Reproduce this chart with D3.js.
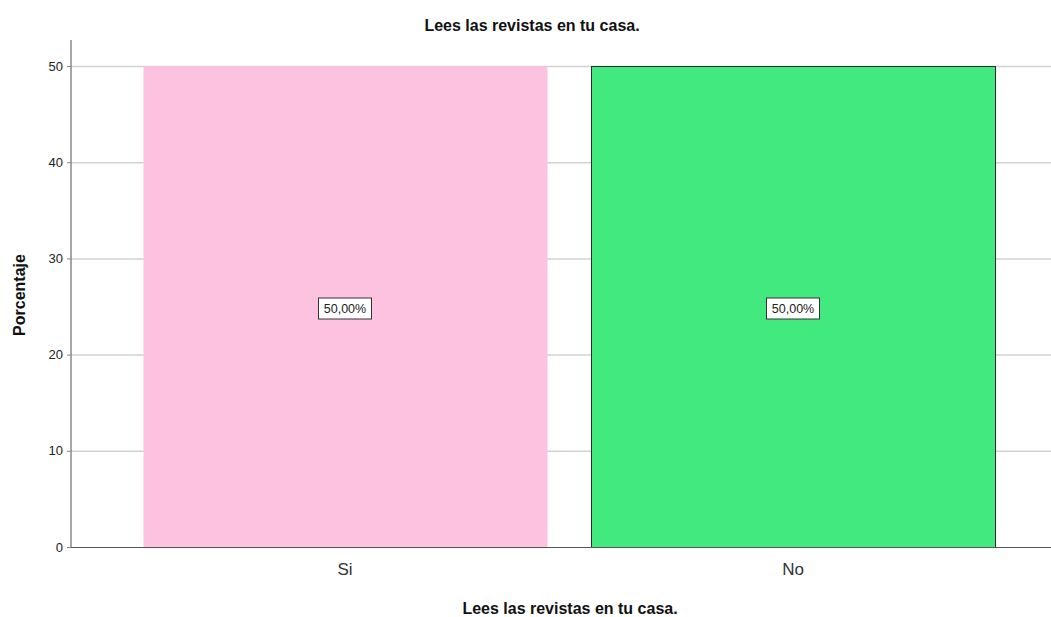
<!DOCTYPE html>
<html>
<head>
<meta charset="utf-8">
<script src="https://cdn.jsdelivr.net/npm/d3@7"></script>
<style>
  body { margin: 0; background: #fff; }
  svg { display: block; font-family: "Liberation Sans", Arial, sans-serif; }
</style>
</head>
<body>
<div id="chart"></div>
<script>
// data
var categories = ['Si', 'No'];
var values = [50, 50];
var labels = ['50,00%', '50,00%'];
var yTicks = [0, 10, 20, 30, 40, 50];
var fills = ['#fdc2e0', '#42e97f'];
var strokes = ['none', '#2b2b2b'];

var W = 1051, H = 617;
var x0 = 71, yTop = 66, yBase = 547;

var svg = d3.select('#chart').append('svg')
  .attr('width', W).attr('height', H);

var x = d3.scaleBand().domain(categories).range([x0, 1067])
  .paddingInner(0.0982).paddingOuter(0.1607);
var y = d3.scaleLinear().domain([0, 50]).range([yBase, yTop]);

// gridlines
svg.append('g').selectAll('line').data(yTicks.filter(function (d) { return d > 0; }))
  .enter().append('line')
  .attr('x1', x0).attr('x2', W)
  .attr('y1', function (d) { return y(d) + 0.5; })
  .attr('y2', function (d) { return y(d) + 0.5; })
  .attr('stroke', '#d2d2d2').attr('stroke-width', 1.5);

// bars
svg.append('g').selectAll('rect').data(values).enter().append('rect')
  .attr('x', function (d, i) { return x(categories[i]) + 0.5; })
  .attr('y', function (d) { return y(d) + 0.5; })
  .attr('width', x.bandwidth())
  .attr('height', function (d) { return y(0) - y(d); })
  .attr('fill', function (d, i) { return fills[i]; })
  .attr('stroke', function (d, i) { return strokes[i]; })
  .attr('stroke-width', 1);

// value labels
var lab = svg.append('g').selectAll('g').data(values).enter().append('g')
  .attr('transform', function (d, i) {
    return 'translate(' + (x(categories[i]) + x.bandwidth() / 2) + ',' + (y(d / 2) + 2) + ')';
  });
lab.append('rect')
  .attr('x', -26.5).attr('y', -10.5).attr('width', 53).attr('height', 21)
  .attr('fill', '#fff').attr('stroke', '#333').attr('stroke-width', 1);
lab.append('text')
  .attr('text-anchor', 'middle').attr('dy', '0.35em')
  .attr('font-size', 12.5).attr('fill', '#222')
  .text(function (d, i) { return labels[i]; });

// y axis
var yAxis = svg.append('g').attr('transform', 'translate(' + x0 + ',0)')
  .call(d3.axisLeft(y).tickValues(yTicks).tickSize(4).tickPadding(4));
yAxis.select('.domain').remove();
yAxis.selectAll('line').attr('stroke', '#888');
yAxis.selectAll('text').attr('font-size', 13).attr('fill', '#222')
  .attr('font-family', '"Liberation Sans", Arial, sans-serif');
svg.append('line').attr('x1', x0).attr('x2', x0).attr('y1', 40).attr('y2', yBase + 1)
  .attr('stroke', '#888').attr('stroke-width', 1.5);

// baseline / x axis
svg.append('line').attr('x1', x0).attr('x2', W).attr('y1', yBase + 0.5).attr('y2', yBase + 0.5)
  .attr('stroke', '#555').attr('stroke-width', 1.2);
var xAxis = svg.append('g').attr('transform', 'translate(0,' + yBase + ')')
  .call(d3.axisBottom(x).tickSize(0).tickPadding(16));
xAxis.select('.domain').remove();
xAxis.selectAll('text').attr('font-size', 17).attr('fill', '#333')
  .attr('font-family', '"Liberation Sans", Arial, sans-serif');

// titles
svg.append('text').attr('x', 532).attr('y', 31).attr('text-anchor', 'middle')
  .attr('font-size', 16).attr('font-weight', 'bold').attr('fill', '#111')
  .text('Lees las revistas en tu casa.');
svg.append('text').attr('x', 570).attr('y', 614).attr('text-anchor', 'middle')
  .attr('font-size', 16).attr('font-weight', 'bold').attr('fill', '#111')
  .text('Lees las revistas en tu casa.');
svg.append('text').attr('transform', 'translate(25,295) rotate(-90)')
  .attr('text-anchor', 'middle')
  .attr('font-size', 16).attr('font-weight', 'bold').attr('fill', '#111')
  .text('Porcentaje');
</script>
</body>
</html>
